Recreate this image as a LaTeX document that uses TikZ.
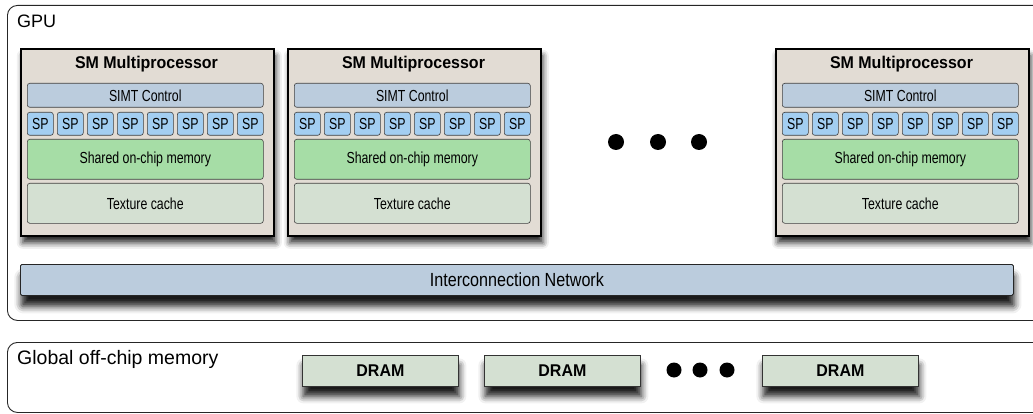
\documentclass[tikz,border=0pt]{standalone}
\usepackage{fontspec}
\setmainfont{Liberation Sans}
\newfontfamily\narrowfont{Liberation Sans}[FakeStretch=0.77]
\newfontfamily\netfont{Liberation Sans}[FakeStretch=0.85]
\newfontfamily\titlefont{Liberation Sans}[FakeStretch=0.94]
\usetikzlibrary{shadows.blur}
\definecolor{smgray}{RGB}{226,220,212}
\definecolor{ctrlblue}{RGB}{187,204,221}
\definecolor{spblue}{RGB}{163,206,241}
\definecolor{shmgreen}{RGB}{166,221,166}
\definecolor{texgreen}{RGB}{212,224,210}
\tikzset{
    chip/.style={draw=black!85,line width=0.9pt,rounded corners=10pt,anchor=north west,inner sep=0pt},
    smbox/.style={draw=black,line width=1.6pt,fill=smgray,anchor=north west,inner sep=0pt,
        minimum width=253pt,minimum height=187pt,
        blur shadow={shadow xshift=2pt,shadow yshift=-7pt,shadow blur radius=6pt,shadow opacity=85}},
    smtitle/.style={font=\titlefont\fontsize{17}{20}\selectfont\bfseries},
    unit/.style={draw=black!75,line width=0.6pt,rounded corners=2.5pt,anchor=north west,inner sep=0pt,
        minimum width=236pt,font=\narrowfont\fontsize{16}{18}\selectfont},
    spbox/.style={unit,fill=spblue,minimum width=26pt,minimum height=23pt},
    netbox/.style={draw=black!85,line width=0.8pt,rounded corners=1.5pt,fill=ctrlblue,anchor=north west,
        inner sep=0pt,minimum width=993pt,minimum height=31pt,font=\netfont\fontsize{19}{21}\selectfont,
        blur shadow={shadow xshift=1pt,shadow yshift=-11pt,shadow blur radius=7pt,shadow opacity=90}},
    drambox/.style={draw=black!80,line width=0.8pt,fill=texgreen,anchor=north west,inner sep=0pt,
        minimum width=156pt,minimum height=31pt,font=\titlefont\fontsize{17}{20}\selectfont\bfseries,
        blur shadow={shadow xshift=1pt,shadow yshift=-10pt,shadow blur radius=7pt,shadow opacity=90}},
    dot/.style={circle,fill=black,inner sep=0pt,minimum size=16pt},
    smalldot/.style={dot,minimum size=15pt},
    boxlabel/.style={anchor=base west,inner sep=0pt}
}
\begin{document}
\begin{tikzpicture}[x=1pt,y=-1pt]
    \useasboundingbox (0,0) rectangle (1033,414);
    \clip (0,0) rectangle (1033,414);
    \node[chip,minimum width=1050pt,minimum height=315pt] (gpu) at (7,5) {};
    \node[boxlabel,font=\fontsize{18}{20}\selectfont] (gpulabel) at (17,28) {GPU};
    \foreach \x [count=\i] in {20,287,775} {
        \node[smbox] (sm\i) at (\x,48) {};
        \node[smtitle] (smt\i) at (\x+126.5,64) {SM Multiprocessor};
        \node[unit,fill=ctrlblue,minimum height=24pt] (simt\i) at (\x+7,83) {SIMT Control};
        \foreach \k in {1,...,8} {
            \node[spbox] (sp\i-\k) at ({\x+7+30*(\k-1)},112) {SP};
        }
        \node[unit,fill=shmgreen,minimum height=40pt] (shm\i) at (\x+7,139) {Shared on-chip memory};
        \node[unit,fill=texgreen,minimum height=40pt] (tex\i) at (\x+7,183) {Texture cache};
    }
    \foreach \x [count=\i] in {616,658,699} {
        \node[dot] (smdot\i) at (\x,142) {};
    }
    \node[netbox] (net) at (20,264) {Interconnection Network};
    \node[chip,minimum width=1050pt,minimum height=70pt] (offchip) at (7,342) {};
    \node[boxlabel,font=\fontsize{19.5}{22}\selectfont] (offchiplabel) at (17,364) {Global off-chip memory};
    \foreach \x [count=\i] in {302,484,762} {
        \node[drambox] (dram\i) at (\x,355) {DRAM};
    }
    \foreach \x [count=\i] in {674,700,727} {
        \node[smalldot] (dramdot\i) at (\x,370) {};
    }
\end{tikzpicture}
\end{document}
